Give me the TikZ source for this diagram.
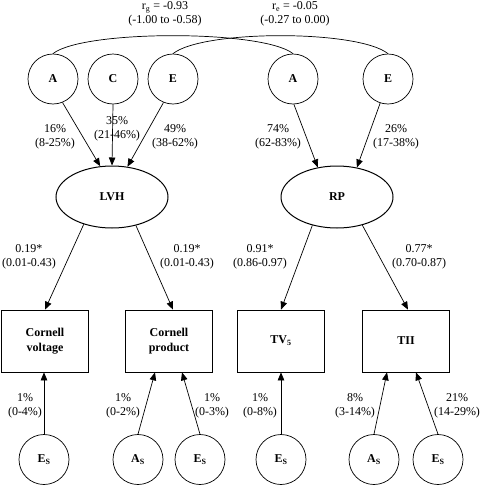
\documentclass[tikz,border=0pt]{standalone}
\usepackage{fontspec}
\setmainfont{Liberation Serif}
\usetikzlibrary{arrows.meta,shapes.geometric}
\begin{document}
\begin{tikzpicture}[x=1pt,y=-1pt,
  line width=0.7pt,
  lat/.style={draw,circle,minimum size=50pt,inner sep=0pt,font=\fontsize{12}{14}\selectfont\bfseries},
  fac/.style={draw,ellipse,line width=1pt,minimum width=112pt,minimum height=62pt,inner sep=0pt,font=\fontsize{12}{14}\selectfont\bfseries},
  obs/.style={draw,rectangle,minimum width=87pt,minimum height=62pt,inner sep=0pt,align=center,font=\fontsize{12}{15}\selectfont\bfseries},
  lab/.style={align=center,inner sep=0pt,font=\fontsize{12}{14}\selectfont},
  arr/.style={-{Triangle[length=8pt,width=6.5pt]},line width=0.7pt}]
\useasboundingbox (0,0) rectangle (480,485);

% top latent factors
\node[lat] (aL) at (53,79) {A};
\node[lat] (cL) at (113,79) {C};
\node[lat] (eL) at (173,79) {E};
\node[lat] (aR) at (293,79) {A};
\node[lat] (eR) at (388,79) {E};

% correlation arcs
\draw (aL.north) .. controls +(30,-24) and +(-30,-24) .. (aR.north);
\draw (eL.north) .. controls +(30,-24) and +(-30,-24) .. (eR.north);
\node[lab] (rg) at (165,14) {r\textsubscript{g} = -0.93\\(-1.00 to -0.58)};
\node[lab] (re) at (295,14) {r\textsubscript{e} = -0.05\\(-0.27 to 0.00)};

% factors
\node[fac] (lvh) at (112,197) {LVH};
\node[fac] (rp) at (337,197) {RP};

\draw[arr] (aL.-68) -- (lvh.111);
\draw[arr] (cL.south) -- (lvh.north);
\draw[arr] (eL.-112) -- (lvh.63);
\draw[arr] (aR.-88) -- (rp.123);
\draw[arr] (eR.-108) -- (rp.56);

\node[lab] (l16) at (55,137) {16\%\\(8-25\%)};
\node[lab] (l35) at (117,128.5) {35\%\\(21-46\%)};
\node[lab] (l49) at (175,137) {49\%\\(38-62\%)};
\node[lab] (l74) at (278,137) {74\%\\(62-83\%)};
\node[lab] (l26) at (396,137) {26\%\\(17-38\%)};

% observed
\node[obs] (cv) at (45,341) {Cornell\\voltage};
\node[obs] (cp) at (169,341) {Cornell\\product};
\node[obs] (tv) at (281,341) {TV\textsubscript{5}};
\node[obs] (tii) at (406,341) {TII};

\draw[arr] (lvh.-136) -- (cv.north);
\draw[arr] (lvh.-50) -- ([xshift=4pt]cp.north);
\draw[arr] (rp.-131) -- (tv.north);
\draw[arr] (rp.-48) -- ([xshift=2pt]tii.north);

\node[lab] (k1) at (29,257) {0.19*\\(0.01-0.43)};
\node[lab] (k2) at (187,257) {0.19*\\(0.01-0.43)};
\node[lab] (k3) at (260,257) {0.91*\\(0.86-0.97)};
\node[lab] (k4) at (419,257) {0.77*\\(0.70-0.87)};

% specific factors
\node[lat] (es1) at (44,459.5) {E\textsubscript{S}};
\node[lat] (as1) at (138,459.5) {A\textsubscript{S}};
\node[lat] (es2) at (200,459.5) {E\textsubscript{S}};
\node[lat] (es3) at (281,459.5) {E\textsubscript{S}};
\node[lat] (as2) at (374,459.5) {A\textsubscript{S}};
\node[lat] (es4) at (438,459.5) {E\textsubscript{S}};

\draw[arr] (es1.north) -- (es1.north |- cv.south);
\draw[arr] (as1.north) -- ([xshift=-14pt]cp.south);
\draw[arr] (es2.north) -- ([xshift=13pt]cp.south);
\draw[arr] (es3.north) -- (tv.south);
\draw[arr] (as2.north) -- ([xshift=-19pt]tii.south);
\draw[arr] (es4.north) -- ([xshift=10pt]tii.south);

\node[lab] (m1) at (25,406) {1\%\\(0-4\%)};
\node[lab] (m2) at (123,406) {1\%\\(0-2\%)};
\node[lab] (m3) at (212,406) {1\%\\(0-3\%)};
\node[lab] (m4) at (260,406) {1\%\\(0-8\%)};
\node[lab] (m5) at (355,406) {8\%\\(3-14\%)};
\node[lab] (m6) at (457,406) {21\%\\(14-29\%)};
\end{tikzpicture}
\end{document}
